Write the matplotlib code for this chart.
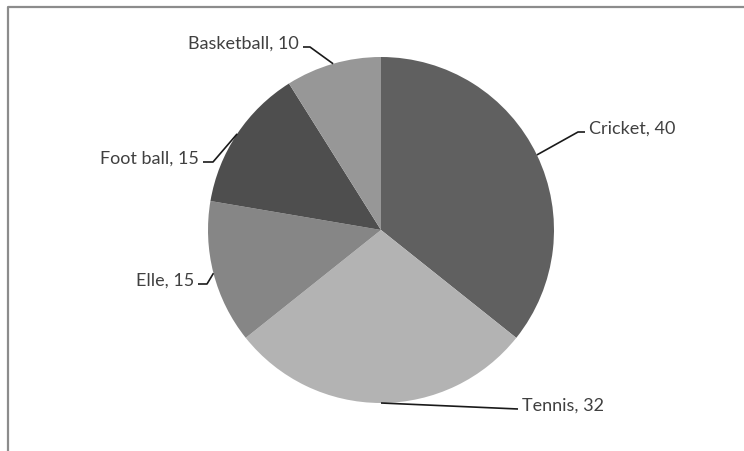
import numpy as np
import matplotlib
matplotlib.use("Agg")
import matplotlib.pyplot as plt

# Dados do gráfico
sports = ["Cricket", "Tennis", "Elle", "Foot ball", "Basketball"]
counts = [40, 32, 15, 15, 10]
colors = ["#606060", "#b3b3b3", "#868686", "#4e4e4e", "#979797"]

# Layout em pixels (figura 744x452)
W, H = 744, 452
cx, cy, R = 381, H - 231, 173
# posição do cotovelo / fim da linha guia relativa ao centro (dx, dy), alinhamento do texto
label_layout = {
    "Cricket":    ((197, 98), (204, 98), "left"),
    "Tennis":     ((137, -179), (137, -179), "left"),
    "Elle":       ((-174, -54), (-183, -54), "right"),
    "Foot ball":  ((-168, 68), (-178, 68), "right"),
    "Basketball": ((-71, 183), (-78, 183), "right"),
}

plt.rcParams['font.family'] = ['Lato', 'DejaVu Sans']

fig = plt.figure(figsize=(W / 100, H / 100), dpi=100)
ax = fig.add_axes([0, 0, 1, 1])

wedges, _ = ax.pie(counts, colors=colors, startangle=90, counterclock=False,
                   center=(cx, cy), radius=R, frame=True,
                   wedgeprops=dict(linewidth=0))
ax.set_xlim(0, W)
ax.set_ylim(0, H)
ax.set_aspect("equal")
ax.axis("off")

# Linhas guia e rótulos
for w, name, val in zip(wedges, sports, counts):
    mid = np.deg2rad((w.theta1 + w.theta2) / 2)
    x0, y0 = cx + R * np.cos(mid), cy + R * np.sin(mid)
    (ex, ey), (tx, ty), ha = label_layout[name]
    ex, ey, tx, ty = cx + ex, cy + ey, cx + tx, cy + ty
    ax.plot([x0, ex, tx], [y0, ey, ty], color="#1a1a1a", lw=1.2,
            solid_capstyle="butt")
    off = 4 if ha == "left" else -4
    ax.text(tx + off, ty + 4, f"{name}, {val}", ha=ha, va="center",
            fontsize=13, color="#404040")

# Borda da área do gráfico
ax.plot([8, 8, W + 10], [-10, H - 8, H - 8], color="#8c8c8c", lw=1.6,
        clip_on=False)

fig.savefig("out.png", dpi=100)
